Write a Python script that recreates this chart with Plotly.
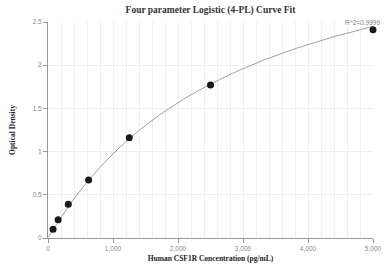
import numpy as np
import plotly.graph_objects as go

conc = [78, 156, 312, 625, 1250, 2500, 5000]
od = [0.10, 0.21, 0.39, 0.67, 1.16, 1.77, 2.41]

# 4PL fit parameters (estimated)
A, B, C, D = 0.005, 1.02, 2900.0, 3.85

xs = np.linspace(0, 5000, 300)
ys = D + (A - D) / (1 + (xs / C) ** B)

fig = go.Figure()
fig.add_trace(go.Scatter(x=xs, y=ys, mode="lines",
                         line=dict(color="#a0a0a0", width=1), hoverinfo="skip"))
fig.add_trace(go.Scatter(x=conc, y=od, mode="markers", cliponaxis=False,
                         marker=dict(color="#1a1a1a", size=7)))

fig.add_annotation(x=5000, y=2.41, text="R^2=0.9999", showarrow=False,
                   xanchor="right", yanchor="bottom", yshift=2, xshift=9,
                   font=dict(family="Liberation Sans, Arial", size=6.5, color="#808080"))

fig.update_layout(
    width=390, height=268,
    margin=dict(l=48, r=17, t=22, b=30),
    paper_bgcolor="white", plot_bgcolor="white",
    showlegend=False,
    title=dict(text="<b>Four parameter Logistic (4-PL) Curve Fit</b>",
               xref="paper", x=0.5, xanchor="center", y=0.965, yanchor="middle",
               font=dict(family="Liberation Serif, Times New Roman", size=9.5, color="#333")),
    xaxis=dict(range=[0, 5000], tickvals=[0, 1000, 2000, 3000, 4000, 5000],
               ticktext=["0", "1,000", "2,000", "3,000", "4,000", "5,000"],
               automargin=False,
               showgrid=True, gridcolor="#edf0f3", gridwidth=1,
               minor=dict(dtick=200, showgrid=True, gridcolor="#edf0f3", gridwidth=1),
               showline=True, linecolor="#999", linewidth=1,
               ticks="outside", ticklen=4, tickcolor="#999",
               tickfont=dict(family="Liberation Sans, Arial", size=6.5, color="#888"),
               zeroline=False,
               title=dict(text="<b>Human CSF1R Concentration (pg/mL)</b>", standoff=4,
                          font=dict(family="Liberation Serif, Times New Roman", size=7.5, color="#222"))),
    yaxis=dict(range=[0, 2.5], tickvals=[0, 0.5, 1, 1.5, 2, 2.5],
               ticktext=["0", "0.5", "1", "1.5", "2", "2.5"],
               automargin=False,
               showgrid=True, gridcolor="#edf0f3", gridwidth=1,
               showline=True, linecolor="#999", linewidth=1,
               ticks="outside", ticklen=4, tickcolor="#999",
               tickfont=dict(family="Liberation Sans, Arial", size=6.5, color="#888"),
               zeroline=False,
               title=dict(text="<b>Optical Density</b>", standoff=16,
                          font=dict(family="Liberation Serif, Times New Roman", size=7.5, color="#222"))),
)

fig.write_html("out.html", config={"displayModeBar": False},
               post_script="document.body.style.margin='0';")
